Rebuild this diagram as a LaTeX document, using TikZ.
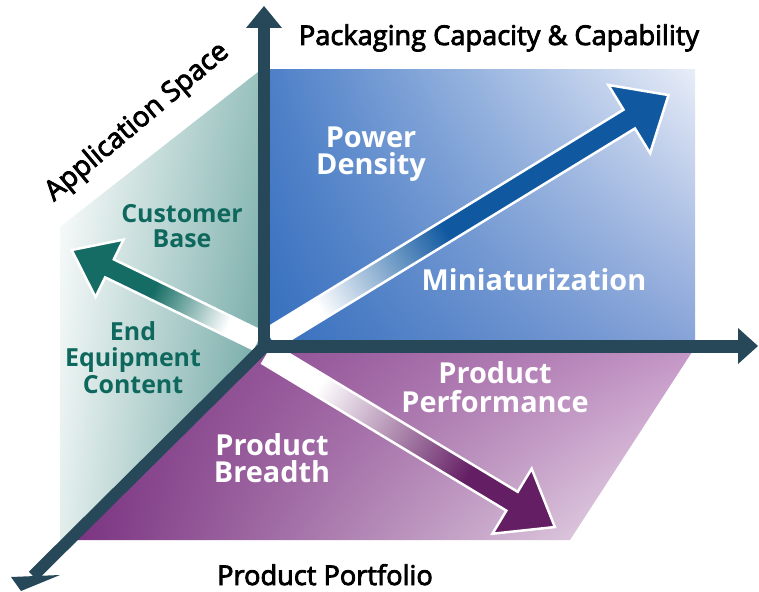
\documentclass[tikz,border=0pt]{standalone}
\usepackage{fontspec}
\usetikzlibrary{shadings}
\setmainfont{Open Sans}
\newfontfamily\titlefont[FakeBold=3]{Open Sans}
\definecolor{axiscol}{RGB}{38,72,88}
\definecolor{bluearrow}{RGB}{16,88,160}
\definecolor{bluedark}{RGB}{55,112,190}
\definecolor{bluemid}{RGB}{78,128,200}
\definecolor{bluelight}{RGB}{135,163,216}
\definecolor{bluepale}{RGB}{232,237,248}
\definecolor{tealarrow}{RGB}{20,108,100}
\definecolor{tealtext}{RGB}{14,104,94}
\definecolor{tealdark}{RGB}{98,158,155}
\definecolor{teallight}{RGB}{150,192,188}
\definecolor{tealpale}{RGB}{226,238,236}
\definecolor{purplearrow}{RGB}{100,30,100}
\definecolor{purpledark}{RGB}{122,50,128}
\definecolor{purplelight}{RGB}{196,150,198}
\definecolor{purplepale}{RGB}{242,232,242}
\pgfdeclarehorizontalshading{bluefade}{100bp}{color(0bp)=(white); color(31bp)=(white); color(47bp)=(bluearrow); color(100bp)=(bluearrow)}
\pgfdeclarehorizontalshading{tealfade}{100bp}{color(0bp)=(white); color(33bp)=(white); color(53bp)=(tealarrow); color(100bp)=(tealarrow)}
\pgfdeclarehorizontalshading{purplefade}{100bp}{color(0bp)=(white); color(34bp)=(white); color(60bp)=(purplearrow); color(100bp)=(purplearrow)}
\tikzset{
  titletext/.style={font=\titlefont\fontsize{27.3}{30}\selectfont, text=black, inner sep=0pt},
  whitelab/.style={font=\bfseries\fontsize{29}{28}\selectfont, text=white, align=center, inner sep=0pt},
  teallab/.style={font=\bfseries\fontsize{25}{25}\selectfont, text=tealtext, align=center, inner sep=0pt},
  fatarrow/.style={draw=white, line width=2.5bp, line join=miter},
  axisfill/.style={fill=axiscol, draw=none}
}
\begin{document}
\begin{tikzpicture}[x=1bp,y=-1bp]
\useasboundingbox (0,0) rectangle (759,592);
% named points
\coordinate (O) at (264,347);
% --- planes ---
\shade[upper left=bluemid, lower left=bluedark, upper right=bluepale, lower right=bluelight]
  (270,70) rectangle (695,342);
\shade[upper left=white, lower left=tealpale, upper right=teallight, lower right=tealdark]
  (258,72) -- (60,227) -- (60,542) -- (264,347) -- cycle;
\shade[upper left=purpledark, lower left=purpledark, upper right=purplelight, lower right=purplepale]
  (264,350) -- (692,352) -- (570,540) -- (70,540) -- cycle;
% --- fat arrows ---
\begin{scope}[transform canvas={shift={(272,338)},rotate=31.5}]
  \shade[fatarrow, shading=bluefade]
    (0,-11) -- (419,-11) -- (419,-40) -- (465,0) -- (419,40) -- (419,11) -- (0,11) -- cycle;
\end{scope}
\begin{scope}[transform canvas={shift={(257,340)},rotate=154.1}]
  \shade[fatarrow, shading=tealfade]
    (0,-10) -- (164,-10) -- (164,-32) -- (206,0) -- (164,32) -- (164,10) -- (0,10) -- cycle;
\end{scope}
\begin{scope}[transform canvas={shift={(268,354)},rotate=-31.1}]
  \shade[fatarrow, shading=purplefade]
    (0,-11) -- (285,-11) -- (285,-38) -- (335,0) -- (285,38) -- (285,11) -- (0,11) -- cycle;
\end{scope}
% --- axes ---
\coordinate (vtip) at (264,6);
\coordinate (htip) at (758,346);
\coordinate (dtip) at (21,591);
\fill[axisfill] (258,28) rectangle (270,353);
\fill[axisfill] (246,28) -- (vtip) -- (282,28) -- cycle;
\fill[axisfill] (258,340) rectangle (738,353);
\fill[axisfill] (738,328) -- (htip) -- (738,364) -- cycle;
\draw[axiscol, line width=12bp] (O) -- (33,576);
\fill[axisfill] (11,577) -- (60,575) -- (dtip) -- cycle;
% --- texts ---
\node[titletext, anchor=base] (pcc) at (499,45) {Packaging Capacity \& Capability};
\node[titletext, font=\titlefont\fontsize{28}{30}\selectfont, anchor=base, rotate=40] (as) at (142,128) {Application Space};
\node[titletext, anchor=base] (pp) at (325,585) {Product Portfolio};
\node[whitelab, anchor=base] (pd) at (371,175) {Power\\Density};
\node[whitelab, anchor=base] (mi) at (534,290) {Miniaturization};
\node[teallab, anchor=base] (cb) at (182,247) {Customer\\Base};
\node[teallab, font=\bfseries\fontsize{25}{26.5}\selectfont, anchor=base] (eec) at (133,393) {End\\Equipment\\Content};
\node[whitelab, font=\bfseries\fontsize{29}{29}\selectfont, anchor=base] (ppf) at (495,412) {Product\\Performance};
\node[whitelab, font=\bfseries\fontsize{29}{27}\selectfont, anchor=base] (pb) at (272,482) {Product\\Breadth};
\end{tikzpicture}
\end{document}
